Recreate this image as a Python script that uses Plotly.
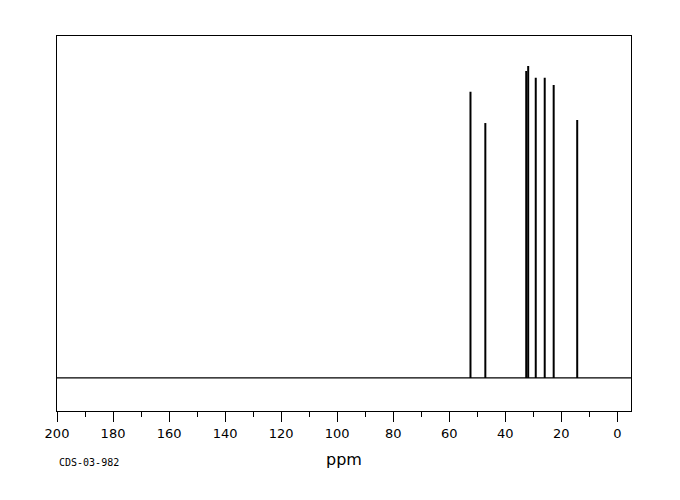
import plotly.graph_objects as go

# Peak positions (ppm) and relative intensities
peak_ppm = [52.4, 47.1, 32.5, 31.8, 29.1, 25.9, 22.7, 14.3]
peak_height = [91.7, 81.7, 98.4, 100.0, 96.2, 96.2, 93.9, 82.7]

x_range = [200, -4.9]
tick_vals = [200, 180, 160, 140, 120, 100, 80, 60, 40, 20, 0]

# Build peak stick lines
px, py = [], []
for p, h in zip(peak_ppm, peak_height):
    px += [p, p, None]
    py += [0, h, None]

fig = go.Figure()
fig.add_trace(go.Scatter(x=[x_range[0], x_range[1]], y=[0, 0], mode="lines",
                         line=dict(color="black", width=1.3), hoverinfo="skip"))
fig.add_trace(go.Scatter(x=px, y=py, mode="lines",
                         line=dict(color="black", width=2), hoverinfo="skip"))

fig.update_layout(
    width=680, height=500,
    margin=dict(l=49, r=57, t=28, b=97),
    paper_bgcolor="white", plot_bgcolor="white",
    showlegend=False,
    font=dict(family="DejaVu Sans", color="black"),
    xaxis=dict(
        range=x_range, showgrid=False, zeroline=False,
        showline=True, mirror=True, linecolor="black", linewidth=1,
        ticks="outside", ticklen=10, tickwidth=1, tickcolor="black",
        tickvals=tick_vals, tickfont=dict(size=13, family="DejaVu Sans"),
        minor=dict(dtick=10, tick0=0, ticks="outside", ticklen=5, tickcolor="black", tickwidth=1),
        title=dict(text="ppm", font=dict(size=16, family="DejaVu Sans"), standoff=14),
    ),
    yaxis=dict(
        range=[-10.6, 109.6], showgrid=False, zeroline=False,
        showline=True, mirror=True, linecolor="black", linewidth=1,
        showticklabels=False, ticks="",
    ),
    annotations=[dict(text="CDS-03-982", x=0, xref="paper", y=-0.136, yref="paper",
                      xanchor="left", yanchor="middle", showarrow=False,
                      font=dict(family="DejaVu Sans Mono", size=10, color="black"))],
)

fig.write_html("out.html")
